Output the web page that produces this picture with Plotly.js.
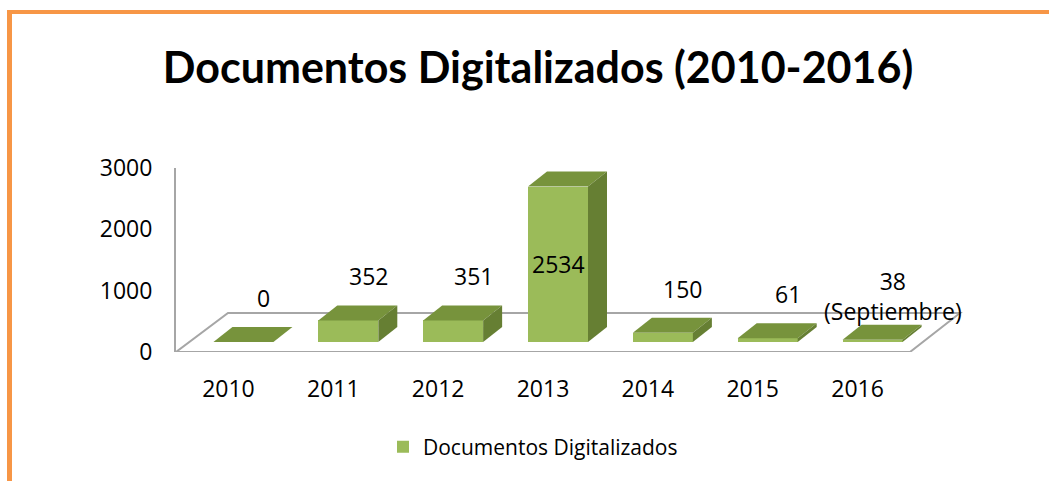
<!DOCTYPE html>
<html>
<head>
<meta charset="utf-8">
<script src="https://cdn.plot.ly/plotly-3.0.1.min.js"></script>
<style>html,body{margin:0;padding:0;background:#fff;}#chart{width:1049px;height:481px;}</style>
</head>
<body>
<div id="chart"></div>
<script>
// ---- data ----
const years = ['2010', '2011', '2012', '2013', '2014', '2015', '2016'];
const values = [0, 352, 351, 2534, 150, 61, 38];
const labelNotes = ['', '', '', '', '', '', '(Septiembre)'];
const seriesName = 'Documentos Digitalizados';
const chartTitle = 'Documentos Digitalizados (2010-2016)';
const yTicks = [0, 1000, 2000, 3000];

// ---- layout constants (pixels) ----
const W = 1049, H = 481;
const plotL = 176, plotR = 980, plotT = 168, plotB = 352;
const slotPx = 734 / 7;
const xMin = -0.5, xMax = xMin + (plotR - plotL) / slotPx;
const yMax = 3000;
const pxPerY = (plotB - plotT) / yMax;
const ux = 1 / slotPx, uy = 1 / pxPerY;

const barShift = 15 * ux, barW = 60 * ux, barBase = 10 * uy;
const depthX = 19 * ux, depthY = 15 * uy;
const floorDxL = 52 * ux, floorDxR = 50 * ux, floorDy = 39 * uy;

const cFront = '#9BBB59', cTop = '#77933C', cSide = '#667F33';
const fontMain = 'Open Sans, Noto Sans, sans-serif';

const xs = values.map((v, i) => i);

const barTrace = {
  type: 'bar',
  name: seriesName,
  x: xs.map(i => i + barShift),
  y: values,
  base: values.map(() => barBase),
  width: barW,
  marker: {color: cFront, line: {width: 0}},
  showlegend: true,
  hoverinfo: 'skip'
};

const shapes = [];
// floor
shapes.push({
  type: 'path', xref: 'x', yref: 'y', layer: 'below',
  path: `M ${xMin},0 L ${xMin + 7},0 L ${xMin + 7 + floorDxR},${floorDy} L ${xMin + floorDxL},${floorDy} Z`,
  fillcolor: '#ffffff', line: {color: '#A6A6A6', width: 2}
});
// 3D faces
values.forEach((v, i) => {
  const x0 = i + barShift - barW / 2, x1 = i + barShift + barW / 2;
  const yb = barBase, yt = barBase + v;
  shapes.push({
    type: 'path', xref: 'x', yref: 'y', layer: 'above',
    path: `M ${x0},${yt} L ${x1},${yt} L ${x1 + depthX},${yt + depthY} L ${x0 + depthX},${yt + depthY} Z`,
    fillcolor: cTop, line: {color: 'rgba(0,0,0,0)', width: 0}
  });
  if (v > 0) {
    shapes.push({
      type: 'path', xref: 'x', yref: 'y', layer: 'above',
      path: `M ${x1},${yb} L ${x1},${yt} L ${x1 + depthX},${yt + depthY} L ${x1 + depthX},${yb + depthY} Z`,
      fillcolor: cSide, line: {color: 'rgba(0,0,0,0)', width: 0}
    });
  }
});
// orange frame (pixel -> paper)
const pxX = p => (p - plotL) / (plotR - plotL);
const pxY = p => (plotB - p) / (plotB - plotT);
shapes.push({type: 'line', xref: 'paper', yref: 'paper', x0: pxX(9.5), x1: pxX(9.5), y0: pxY(10), y1: pxY(H + 5), line: {color: '#F79646', width: 5}});
shapes.push({type: 'line', xref: 'paper', yref: 'paper', x0: pxX(7), x1: pxX(W + 5), y0: pxY(12), y1: pxY(12), line: {color: '#F79646', width: 4}});

// data labels
const annotations = values.map((v, i) => {
  const inside = v > 2000;
  const txt = labelNotes[i] ? `${v}<br>${labelNotes[i]}` : `${v}`;
  return {
    xref: 'x', yref: 'y',
    x: i + barShift + (inside ? 0 : 20 * ux),
    y: inside ? barBase + v / 2 : barBase + v,
    yshift: inside ? 0 : 44,
    text: txt, showarrow: false,
    xanchor: 'center', yanchor: 'middle',
    font: {family: fontMain, size: 23, color: '#000'}
  };
});

const layout = {
  width: W, height: H,
  margin: {l: plotL, r: W - plotR, t: plotT, b: H - plotB, pad: 0},
  paper_bgcolor: '#ffffff', plot_bgcolor: 'rgba(0,0,0,0)',
  title: {
    text: chartTitle,
    xref: 'container', yref: 'container',
    x: 538 / W, y: 1 - 68 / H, xanchor: 'center', yanchor: 'middle',
    font: {family: 'Lato, Open Sans, sans-serif', size: 43, weight: 'bold', color: '#000'}
  },
  xaxis: {
    range: [xMin, xMax], tickvals: xs, ticktext: years,
    showgrid: false, zeroline: false, showline: false, ticks: '',
    ticklabelstandoff: 21,
    tickfont: {family: fontMain, size: 23, color: '#000'},
    fixedrange: true
  },
  yaxis: {
    range: [0, yMax], tickvals: yTicks, ticktext: yTicks.map(String),
    showgrid: false, zeroline: false, showline: true,
    linecolor: '#A6A6A6', linewidth: 2, ticks: '',
    ticklabelstandoff: 17,
    tickfont: {family: fontMain, size: 23, color: '#000'},
    fixedrange: true
  },
  showlegend: true,
  legend: {
    orientation: 'h', xref: 'container', yref: 'container',
    x: 533 / W, y: 1 - 447 / H, xanchor: 'center', yanchor: 'middle',
    font: {family: fontMain, size: 21, color: '#000'},
    bgcolor: 'rgba(0,0,0,0)'
  },
  shapes: shapes,
  annotations: annotations,
  bargap: 0
};

Plotly.newPlot('chart', [barTrace], layout, {displayModeBar: false, staticPlot: true});
</script>
</body>
</html>
